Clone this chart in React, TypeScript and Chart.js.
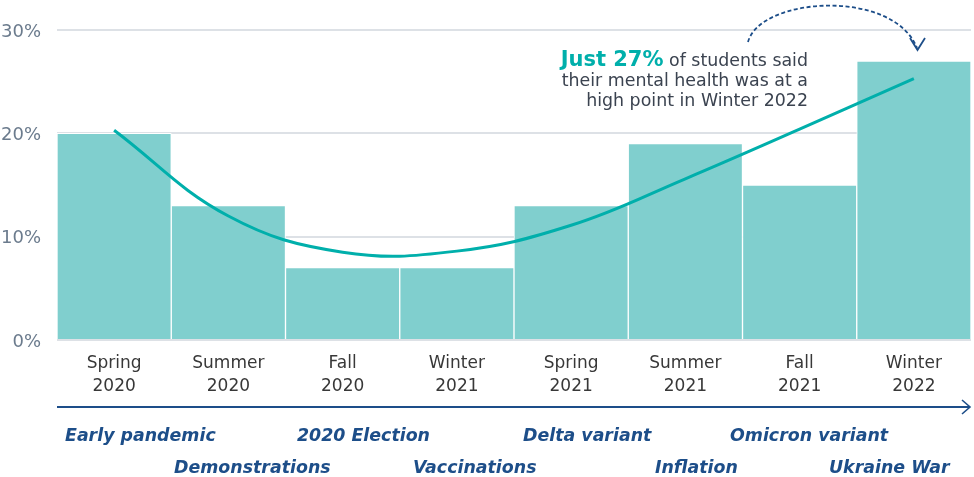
import { useEffect, useRef } from "react";
import { Chart, registerables } from "chart.js";

Chart.register(...registerables);

//  Data

const SEASONS = [
  ["Spring", "2020"],
  ["Summer", "2020"],
  ["Fall", "2020"],
  ["Winter", "2021"],
  ["Spring", "2021"],
  ["Summer", "2021"],
  ["Fall", "2021"],
  ["Winter", "2022"],
];

// share of students whose mental health was at a high point
const HIGH_POINT = [20, 13, 7, 7, 13, 19, 15, 27];

// fitted trend curve, read at each season
const TREND = [20.3, 12.0, 8.5, 8.6, 11.1, 15.6, 20.4, 25.3];

const Y_TICKS = [0, 10, 20, 30];

const EVENTS_TOP = ["Early pandemic", "2020 Election", "Delta variant", "Omicron variant"];
const EVENTS_BOTTOM = ["Demonstrations", "Vaccinations", "Inflation", "Ukraine War"];

//  Layout / style

const BAR = "#80CFCE";
const TEAL = "#00AFAB";
const NAVY = "#1D4E89";
const GRID = "#DDE1E6";
const FONT = "'DejaVu Sans', Verdana, sans-serif";

const EVENTS_TOP_X = [65, 297, 523, 730];
const EVENTS_BOTTOM_X = [174, 413, 655, 829];

export default function App() {
  const canvasRef = useRef<HTMLCanvasElement>(null);

  useEffect(() => {
    if (!canvasRef.current) return;
    Chart.defaults.font.family = FONT;

    const chart = new Chart(canvasRef.current, {
      type: "bar",
      data: {
        labels: SEASONS,
        datasets: [
          {
            type: "line",
            label: "Trend",
            data: TREND,
            borderColor: TEAL,
            borderWidth: 3,
            pointRadius: 0,
            tension: 0.4,
            fill: false,
            order: 0,
          },
          {
            type: "bar",
            label: "High point",
            data: HIGH_POINT,
            backgroundColor: BAR,
            borderColor: "#ffffff",
            borderWidth: 1,
            categoryPercentage: 1,
            barPercentage: 1,
            order: 1,
          },
        ],
      },
      options: {
        responsive: false,
        animation: false,
        layout: { padding: { top: 30, right: 3, left: 0, bottom: 0 } },
        plugins: {
          legend: { display: false },
          tooltip: { enabled: false },
        },
        scales: {
          x: {
            grid: { display: false, drawTicks: false },
            border: { display: false },
            afterFit: (scale) => {
              scale.height = 137;
            },
            ticks: {
              color: "#383838",
              padding: 13,
              maxRotation: 0,
              autoSkip: false,
              font: { size: 17, lineHeight: 1.3 },
            },
          },
          y: {
            min: 0,
            max: 30,
            afterFit: (scale) => {
              scale.width = 57;
            },
            afterBuildTicks: (scale) => {
              scale.ticks = Y_TICKS.map((v) => ({ value: v }));
            },
            grid: { color: GRID, lineWidth: 2, drawTicks: false },
            border: { display: false },
            ticks: {
              color: "#6B7B8D",
              padding: 16,
              labelOffset: 2,
              font: { size: 18 },
              callback: (v) => `${v}%`,
            },
          },
        },
      },
    });

    return () => chart.destroy();
  }, []);

  return (
    <div
      style={{
        position: "fixed",
        left: 0,
        top: 0,
        width: 974,
        height: 477,
        background: "#ffffff",
        fontFamily: FONT,
      }}
    >
      <canvas ref={canvasRef} width={974} height={477} style={{ position: "absolute", left: 0, top: 0 }} />

      {/* callout */}
      <div
        style={{
          position: "absolute",
          right: 166,
          top: 49,
          textAlign: "right",
          fontSize: 17.4,
          lineHeight: "20px",
          color: "#3B4350",
          whiteSpace: "nowrap",
        }}
      >
        <div>
          <span style={{ color: TEAL, fontWeight: 700, fontSize: 21 }}>Just 27%</span> of students said
        </div>
        <div>their mental health was at a</div>
        <div>high point in Winter 2022</div>
      </div>

      <svg width={974} height={477} style={{ position: "absolute", left: 0, top: 0, pointerEvents: "none" }}>
        {/* dashed pointer to the last bar */}
        <path
          d="M748,42 C760,-3 893,-12 917,48"
          fill="none"
          stroke={NAVY}
          strokeWidth={1.8}
          strokeDasharray="4 2.5"
        />
        <path d="M910,38 L917.5,50 L925,38" fill="none" stroke={NAVY} strokeWidth={1.8} />
        {/* timeline */}
        <line x1={57} y1={407} x2={970} y2={407} stroke={NAVY} strokeWidth={2} />
        <path d="M962,400 L970,407 L962,414" fill="none" stroke={NAVY} strokeWidth={1.6} />
      </svg>

      {EVENTS_TOP.map((t, i) => (
        <EventLabel key={t} text={t} x={EVENTS_TOP_X[i]} y={435} />
      ))}
      {EVENTS_BOTTOM.map((t, i) => (
        <EventLabel key={t} text={t} x={EVENTS_BOTTOM_X[i]} y={467} />
      ))}
    </div>
  );
}

function EventLabel({ text, x, y }: { text: string; x: number; y: number }) {
  return (
    <div
      style={{
        position: "absolute",
        left: x,
        top: y - 11,
        height: 22,
        lineHeight: "22px",
        fontSize: 17.4,
        fontWeight: 700,
        fontStyle: "italic",
        color: NAVY,
        whiteSpace: "nowrap",
      }}
    >
      {text}
    </div>
  );
}
